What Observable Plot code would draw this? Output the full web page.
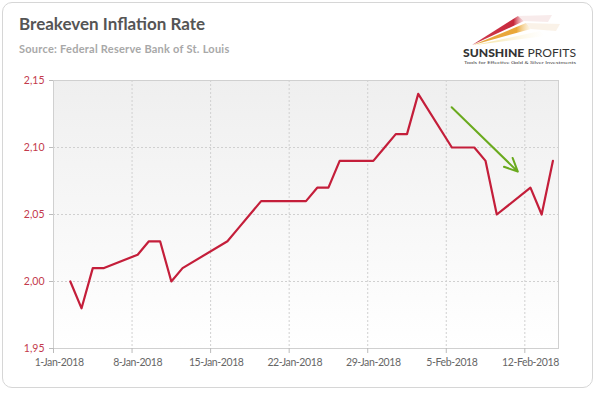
<!DOCTYPE html>
<html>
<head>
<meta charset="utf-8">
<script src="https://cdn.jsdelivr.net/npm/d3@7"></script>
<script src="https://cdn.jsdelivr.net/npm/@observablehq/plot@0.6"></script>
<style>
  html, body { margin: 0; padding: 0; background: #fff; }
  #wrap { position: relative; width: 600px; height: 393px; overflow: hidden; font-family: Lato, "Open Sans", sans-serif; }
  #card { position: absolute; left: 2px; top: 2px; width: 591px; height: 386px; border: 1px solid #d6d6d6; border-radius: 10px; box-sizing: border-box; }
  #title { position: absolute; left: 19px; top: 13px; font-size: 17px; font-weight: 700; color: #555; }
  #subtitle { position: absolute; left: 19px; top: 42px; font-size: 11px; letter-spacing: 0.25px; font-weight: 700; color: #a8a8a8; }
  #chart { position: absolute; left: 0; top: 0; }
  #logo { position: absolute; left: 0; top: 0; }
  #chart svg g[aria-label="x-axis tick label"] text { letter-spacing: -0.5px; }
</style>
</head>
<body>
<div id="wrap">
  <div id="card"></div>
  <div id="chart"></div>
  <div id="title">Breakeven Inflation Rate</div>
  <div id="subtitle">Source: Federal Reserve Bank of St. Louis</div>
  <svg id="logo" width="600" height="80">
    <defs>
      <linearGradient id="lgR" x1="0" x2="1" y1="0" y2="0">
        <stop offset="0" stop-color="#c8283c" stop-opacity="0.9"/>
        <stop offset="0.8" stop-color="#c8283c" stop-opacity="1"/>
        <stop offset="1" stop-color="#e89aa0" stop-opacity="0.3"/>
      </linearGradient>
      <linearGradient id="lgO" x1="0" x2="1" y1="0" y2="0">
        <stop offset="0" stop-color="#e39a2c" stop-opacity="0.9"/>
        <stop offset="0.75" stop-color="#eaa838" stop-opacity="1"/>
        <stop offset="1" stop-color="#f5d9a0" stop-opacity="0.2"/>
      </linearGradient>
      <linearGradient id="lgY" x1="0" x2="1" y1="0" y2="0">
        <stop offset="0" stop-color="#f0d060" stop-opacity="0.7"/>
        <stop offset="1" stop-color="#f8efc8" stop-opacity="0"/>
      </linearGradient>
    </defs>
    <polygon points="472,45 518,16 524,21" fill="url(#lgR)"/>
    <polygon points="524,21 518,16 552,15 548,22" fill="#f4dede" opacity="0.6"/>
    <polygon points="473,45 526,23 531,29" fill="url(#lgO)"/>
    <polygon points="531,29 526,23 560,24 556,31" fill="#f6ead8" opacity="0.6"/>
    <polygon points="475,45 540,31 545,36" fill="url(#lgY)"/>
    <text x="463" y="57" font-family="Lato, sans-serif" font-size="10.5" fill="#333" textLength="113" lengthAdjust="spacingAndGlyphs"><tspan font-weight="900">SUNSHINE</tspan><tspan font-weight="400"> PROFITS</tspan></text>
    <text x="464" y="63.5" font-family="Lato, sans-serif" font-size="4.6" fill="#444" textLength="112" lengthAdjust="spacingAndGlyphs">Tools for Effective Gold &amp; Silver Investments</text>
  </svg>
</div>
<script>
// ---- data ----
const dates = [
  "2018-01-02","2018-01-03","2018-01-04","2018-01-05",
  "2018-01-08","2018-01-09","2018-01-10","2018-01-11","2018-01-12",
  "2018-01-16","2018-01-17","2018-01-18","2018-01-19",
  "2018-01-22","2018-01-23","2018-01-24","2018-01-25","2018-01-26",
  "2018-01-29","2018-01-30","2018-01-31","2018-02-01","2018-02-02",
  "2018-02-05","2018-02-06","2018-02-07","2018-02-08","2018-02-09",
  "2018-02-12","2018-02-13","2018-02-14"
];
const values = [
  2.00, 1.98, 2.01, 2.01,
  2.02, 2.03, 2.03, 2.00, 2.01,
  2.03, 2.04, 2.05, 2.06,
  2.06, 2.06, 2.07, 2.07, 2.09,
  2.09, 2.10, 2.11, 2.11, 2.14,
  2.10, 2.10, 2.10, 2.09, 2.05,
  2.07, 2.05, 2.09
];
const yTicks = [1.95, 2.00, 2.05, 2.10, 2.15];
const xTickLabels = ["2018-01-01","2018-01-08","2018-01-15","2018-01-22","2018-01-29","2018-02-05","2018-02-12"];
// trend arrow annotation (data units)
const arrowFrom = { date: "2018-02-05T11:30:00Z", value: 2.130 };
const arrowTo = { date: "2018-02-11T09:00:00Z", value: 2.082 };

const table = dates.map((d, i) => ({ date: new Date(d + "T12:00:00Z"), value: values[i] }));
const xTicks = xTickLabels.map(d => new Date(d + "T00:00:00Z"));
const xLabelPos = xTickLabels.map(d => new Date(d + "T12:00:00Z"));
const fmtDate = d3.utcFormat("%-d-%b-%Y");
const fmtVal = v => v.toFixed(2).replace(".", ",");

const chart = Plot.plot({
  width: 600,
  height: 393,
  marginLeft: 53,
  marginRight: 42,
  marginTop: 80,
  marginBottom: 45,
  style: { fontFamily: "Lato, sans-serif", fontSize: "11px", background: "transparent", overflow: "visible" },
  x: { type: "utc", domain: [new Date("2018-01-01T00:00:00Z"), new Date("2018-02-15T00:00:00Z")] },
  y: { domain: [1.95, 2.15] },
  marks: [
    Plot.frame({ fill: "url(#plotbg)", stroke: "none" }),
    Plot.gridY(yTicks, { stroke: "#d0d0d0", strokeOpacity: 1, strokeDasharray: "2,2" }),
    Plot.gridX(xTicks, { stroke: "#d0d0d0", strokeOpacity: 1, strokeDasharray: "2,2" }),
    Plot.frame({ stroke: "#d0d0d0" }),
    Plot.axisY({ ticks: yTicks, tickFormat: fmtVal, tickSize: 4, tickPadding: 5, stroke: "#bbb", fill: "#c33a4c", fontSize: 10.5, label: null }),
    Plot.axisX({ ticks: xTicks, tickFormat: () => "", tickSize: 5, stroke: "#bbb", label: null }),
    Plot.axisX({ ticks: xLabelPos, tickFormat: fmtDate, tickSize: 0, tickPadding: 10, fill: "#666", fontSize: 10.5, label: null }),
    Plot.line(table, { x: "date", y: "value", stroke: "#c41e3a", strokeWidth: 2.2 }),
    Plot.arrow([{ x1: new Date(arrowFrom.date), y1: arrowFrom.value, x2: new Date(arrowTo.date), y2: arrowTo.value }],
      { x1: "x1", y1: "y1", x2: "x2", y2: "y2", stroke: "#6aaa1e", strokeWidth: 2, headLength: 11, headAngle: 50 })
  ]
});

const defs = d3.select(chart).insert("defs", ":first-child");
const g = defs.append("linearGradient").attr("id", "plotbg").attr("x1", 0).attr("x2", 0).attr("y1", 0).attr("y2", 1);
g.append("stop").attr("offset", 0).attr("stop-color", "#efefef");
g.append("stop").attr("offset", 1).attr("stop-color", "#ffffff");
d3.select(chart).selectAll("text").filter(function() { return /\d+-[A-Z][a-z]{2}-\d{4}/.test(this.textContent); }).style("letter-spacing", "-0.4px");

document.getElementById("chart").appendChild(chart);
</script>
</body>
</html>
